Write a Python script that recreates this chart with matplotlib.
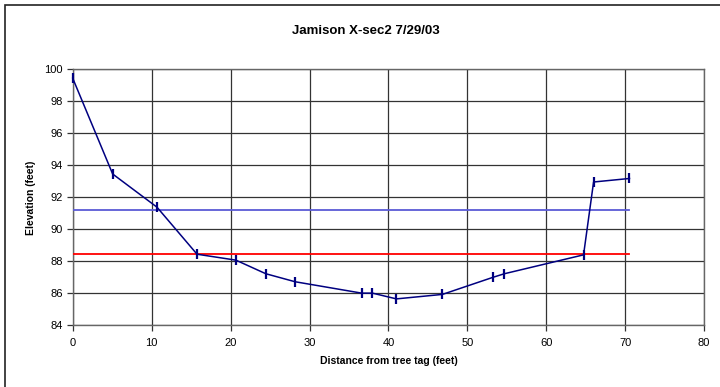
import matplotlib
matplotlib.use("Agg")
import matplotlib.pyplot as plt
from matplotlib.patches import Rectangle

plt.rcParams['font.family'] = ['Liberation Sans', 'DejaVu Sans']

# Data
distance = [0.0, 5.06, 10.67, 15.75, 20.67, 24.47, 28.18, 36.6, 37.97,
            41.01, 46.84, 53.2, 54.68, 64.72, 65.99, 70.54]
elevation = [99.44, 93.46, 91.39, 88.45, 88.08, 87.23, 86.73, 86.02, 86.02,
             85.66, 85.94, 87.0, 87.23, 88.41, 92.96, 93.18]

blue_level = 91.23
red_level = 88.44
level_x = [0.0, 70.54]

title = "Jamison X-sec2 7/29/03"
xlabel = "Distance from tree tag (feet)"
ylabel = "Elevation (feet)"
xticks = [0, 10, 20, 30, 40, 50, 60, 70, 80]
yticks = [84, 86, 88, 90, 92, 94, 96, 98, 100]

fig = plt.figure(figsize=(7.2, 3.87), dpi=100)
ax = fig.add_axes([0.101, 0.159, 0.877, 0.662])

# outer chart border (left/top visible, rest cropped)
fig.patches.append(Rectangle((4.5 / 720, -0.05), 1.1, 1 - 4.5 / 387 + 0.05,
                             transform=fig.transFigure, fill=False,
                             edgecolor='#222222', linewidth=1.2))

ax.set_xlim(0, 80)
ax.set_ylim(84, 100)
ax.set_xticks(xticks)
ax.set_yticks(yticks)
ax.grid(True, color='#333333', linewidth=0.9)
ax.set_axisbelow(True)

ax.plot(level_x, [blue_level, blue_level], color='#5a5ad6', linewidth=1.3, zorder=3)
ax.plot(level_x, [red_level, red_level], color='#ff0000', linewidth=1.3, zorder=3)
ax.plot(distance, elevation, color='#000080', linewidth=1.1, marker='|',
        markersize=7, markeredgewidth=1.6, zorder=4, clip_on=False)

for s in ax.spines.values():
    s.set_color('#666666')
    s.set_linewidth(1.0)

ax.tick_params(axis='both', direction='out', length=4, width=0.9,
               color='#333333', labelsize=8, pad=3)
ax.tick_params(axis='x', pad=5)

fig.text(366 / 720, 1 - 31 / 387, title, fontsize=9.5, fontweight='bold',
         ha='center', va='center')
ax.set_xlabel(xlabel, fontsize=7.5, fontweight='bold', labelpad=6)
ax.set_ylabel(ylabel, fontsize=7.5, fontweight='bold', labelpad=6)

fig.savefig("out.png", dpi=100)
